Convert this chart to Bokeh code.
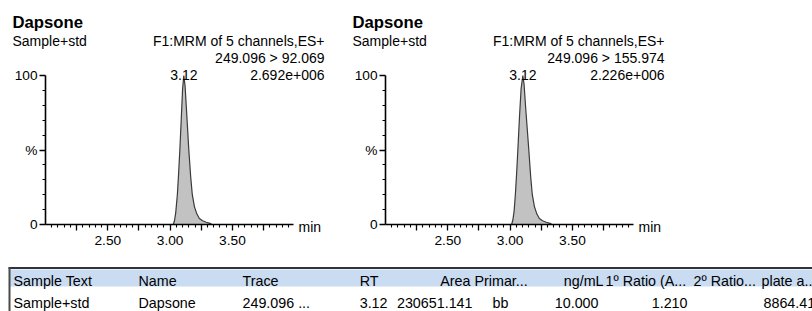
from bokeh.plotting import figure
from bokeh.layouts import column, row
from bokeh.models import Range1d, FixedTicker, NumeralTickFormatter, Label, ColumnDataSource
from bokeh.core.properties import value
from bokeh.embed import file_html
from bokeh.resources import INLINE

# ---------------- data ----------------
compound = "Dapsone"
sample_text = "Sample+std"
function_text = "F1:MRM of 5 channels,ES+"
transitions = ["249.096 > 92.069", "249.096 > 155.974"]
peak_rt_labels = ["3.12", "3.12"]
peak_heights = ["2.692e+006", "2.226e+006"]

# chromatogram traces (time in min, % of max)
t1 = [3.025, 3.035, 3.045, 3.058, 3.068, 3.078, 3.090, 3.100, 3.110, 3.120, 3.132,
      3.150, 3.165, 3.178, 3.195, 3.215, 3.235, 3.260, 3.290, 3.320, 3.335]
y1 = [0, 2.5, 8, 20, 34, 50, 72, 91, 100, 93, 76,
      50, 32, 20, 12, 7, 4, 2.5, 1.5, 0.8, 0]
t2 = [3.012, 3.022, 3.032, 3.042, 3.052, 3.062, 3.075, 3.088, 3.102, 3.112, 3.125,
      3.150, 3.165, 3.178, 3.195, 3.215, 3.235, 3.260, 3.290, 3.320, 3.335]
y2 = [0, 3, 9, 20, 34, 50, 72, 91, 100, 94, 78,
      50, 32, 20, 12, 7, 4, 2.5, 1.5, 0.8, 0]

x_start, x_end = 2.0, 3.99
x_major = [2.25, 2.50, 2.75, 3.00, 3.25, 3.50, 3.75]
x_unlabeled = [2.25, 2.75, 3.25, 3.75]
x_minor = [round(2.0 + 0.05 * i, 2) for i in range(1, 40)]
y_major = [0, 50, 100]
y_major_labels = ["0", "%", "100"]
y_minor = [10, 20, 30, 40, 60, 70, 80, 90]
x_unit = "min"

table_header = ["Sample Text", "Name", "Trace", "RT", "Area", "Primar...", "ng/mL",
                "1º Ratio (A...", "2º Ratio...", "plate a..."]
table_row = ["Sample+std", "Dapsone", "249.096 ...", "3.12", "230651.141", "bb",
             "10.000", "1.210", "", "8864.41"]

# ---------------- layout constants (pixels) ----------------
FONT = "Liberation Sans"
CH = 266                 # chart figure height
AX_L, AX_R = 37, 285     # axis extent relative to block origin
Y_TOP, Y_BOT = 75, 224   # pixel rows of 100 % and 0 %


def chrom(t, y, transition, rt_label, height_label, width, ox):
    kx = (x_end - x_start) / (AX_R - AX_L)
    ky = 100.0 / (Y_BOT - Y_TOP)
    xr0 = x_start - (ox + AX_L) * kx
    yr0 = -(CH - Y_BOT) * ky
    p = figure(width=width, height=CH,
               x_range=Range1d(xr0, xr0 + width * kx),
               y_range=Range1d(yr0, yr0 + CH * ky),
               output_backend="svg", toolbar_location=None,
               min_border_left=0, min_border_right=0, min_border_top=0, min_border_bottom=0)
    p.outline_line_color = None
    p.grid.visible = False
    p.background_fill_color = "white"
    p.border_fill_color = "white"

    p.varea(x=t, y1=[0] * len(t), y2=y, fill_color="#c2c2c2")
    p.line(x=t, y=y, line_color="#3a3a3a", line_width=1.2)

    for ax in (p.xaxis[0], p.yaxis[0]):
        ax.axis_line_width = 1.6
        ax.axis_line_color = "black"
        ax.major_tick_line_color = "black"
        ax.minor_tick_line_color = "black"
        ax.major_tick_line_width = 1.3
        ax.minor_tick_line_width = 1.1
        ax.major_tick_in = 0
        ax.major_tick_out = 6
        ax.minor_tick_in = 0
        ax.minor_tick_out = 3
        ax.major_label_text_font = FONT
        ax.major_label_text_font_size = "13.7px"
        ax.major_label_text_color = "black"

    xa = p.xaxis[0]
    xa.fixed_location = 0
    xa.bounds = (x_start, x_end)
    xa.ticker = FixedTicker(ticks=x_major, minor_ticks=x_minor)
    xa.formatter = NumeralTickFormatter(format="0.00")
    xa.major_label_overrides = {v: "" for v in x_unlabeled}
    xa.major_label_standoff = 5

    ya = p.yaxis[0]
    ya.fixed_location = x_start
    ya.bounds = (0, 100)
    ya.ticker = FixedTicker(ticks=y_major, minor_ticks=y_minor)
    ya.major_label_overrides = dict(zip(y_major, y_major_labels))
    ya.major_label_standoff = 2

    def X(fx):
        return xr0 + (ox + fx) * kx

    def Y(fy):
        return (Y_BOT - fy) * ky

    def lab(text, fx, fy, align="left", size="14px", style="normal",
            baseline="alphabetic", xdata=None):
        p.add_layout(Label(x=X(fx) if xdata is None else xdata, y=Y(fy), text=text,
                           text_font=FONT, text_font_size=size, text_font_style=style,
                           text_align=align, text_baseline=baseline, text_color="black"))

    lab(compound, 4, 21.7, size="16.7px", style="bold")
    lab(sample_text, 4, 40.7)
    lab(function_text, 316, 40.7, align="right")
    lab(transition, 316, 57.3, align="right")
    lab(height_label, 316, 74, align="right")
    apex = t[y.index(max(y))]
    lab(rt_label, 0, 74, align="center", xdata=apex)
    lab(x_unit, 290, 226, baseline="middle")
    return p


p1 = chrom(t1, y1, transitions[0], peak_rt_labels[0], peak_heights[0], 348, 8)
p2 = chrom(t2, y2, transitions[1], peak_rt_labels[1], peak_heights[1], 340, 0)

# ---------------- table ----------------
TW, TH = 812, 45
tp = figure(width=TW, height=TH, x_range=Range1d(0, TW), y_range=Range1d(TH, 0),
            x_axis_location=None, y_axis_location=None, min_border=0,
            output_backend="svg", toolbar_location=None)
tp.outline_line_color = None
tp.grid.visible = False
tp.quad(left=[9], right=[TW], top=[3], bottom=[20], fill_color="#c9dcf2", line_color=None)
tp.segment(x0=[8], y0=[1.5], x1=[TW], y1=[1.5], line_color="#333333", line_width=2)
tp.segment(x0=[9], y0=[1], x1=[9], y1=[TH], line_color="#4a4a4a", line_width=2)

header_x = [13, 138, 242, 378, 470, 474, 603, 605, 693, 761]
header_align = ["left", "left", "left", "right", "right", "left", "right", "left", "left", "left"]
row_x = [13, 138, 242, 387, 472, 500, 598, 687, 693, 763]
row_align = ["left", "left", "left", "right", "right", "center", "right", "right", "left", "left"]

hs = ColumnDataSource(dict(x=header_x, y=[14.7] * len(header_x), text=table_header, align=header_align))
rs = ColumnDataSource(dict(x=row_x, y=[36.3] * len(row_x), text=table_row, align=row_align))
for src in (hs, rs):
    tp.text(x="x", y="y", text="text", source=src, text_align="align",
            text_baseline="alphabetic", text_font=value(FONT), text_font_size="14.3px",
            text_color="black")

layout = column(row(p1, p2), tp)
open("out.html", "w").write(file_html(layout, INLINE))
